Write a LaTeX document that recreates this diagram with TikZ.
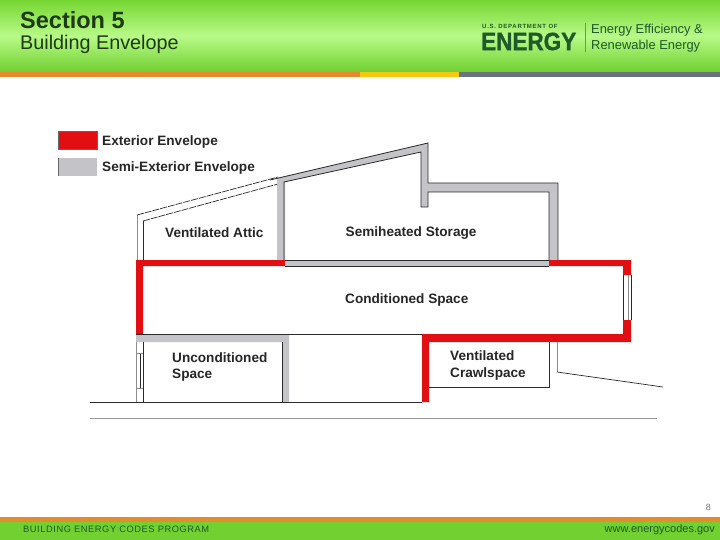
\documentclass[tikz,border=0pt]{standalone}
\usepackage{fontspec}
\setmainfont{Liberation Sans}
\newfontfamily\spaced[LetterSpace=12]{Liberation Sans}
\newfontfamily\footerf[LetterSpace=6]{Liberation Sans}
\newfontfamily\heavy[UprightFont=* Bold,FakeBold=1.2,FakeStretch=0.9]{Liberation Sans}
\definecolor{hgreen}{HTML}{76D632}
\definecolor{hlight}{HTML}{B8FA88}
\definecolor{hbot}{HTML}{70D030}
\definecolor{orangeb}{HTML}{E58A2D}
\definecolor{yellowb}{HTML}{F4C914}
\definecolor{grayb}{HTML}{6A7280}
\definecolor{dkgreen}{HTML}{1F5A2A}
\definecolor{ink}{HTML}{1E3A12}
\definecolor{envred}{HTML}{E10F12}
\definecolor{envgray}{HTML}{C4C4C8}
\definecolor{edge}{HTML}{2A2A2A}
\tikzset{
  x=1pt,y=-1pt,
  lab/.style={anchor=west,inner sep=0pt,font=\fontsize{13.6}{16.5}\selectfont\bfseries,text=black!85,align=left},
  red fill/.style={fill=envred,draw=none},
  gray fill/.style={fill=envgray,draw=none},
  wall line/.style={draw=edge,line width=0.8pt},
  thin line/.style={draw=black!45,line width=0.6pt},
  roof dash/.style={draw=edge,line width=0.7pt,dash pattern=on 7pt off 1pt}
}
\begin{document}
\begin{tikzpicture}
\useasboundingbox (0,0) rectangle (720,540);
\fill[white] (0,0) rectangle (720,540);
% header
\shade[top color=hgreen,bottom color=hbot,middle color=hlight,draw=none] (0,0) rectangle (720,72);
\fill[orangeb] (0,72) rectangle (360,77);
\fill[yellowb] (360,72) rectangle (459,77);
\fill[grayb] (459,72) rectangle (720,77);
\node[anchor=west,inner sep=0pt,text=ink,font=\fontsize{23.5}{26}\selectfont\bfseries] (title) at (20,20.5) {Section 5};
\node[anchor=west,inner sep=0pt,text=ink,font=\fontsize{19.8}{22}\selectfont] (subtitle) at (20,44) {Building Envelope};
\node[anchor=west,inner sep=0pt,text=dkgreen,font=\fontsize{6}{7}\spaced\bfseries] (doe) at (482,26.5) {U.S. DEPARTMENT OF};
\node[anchor=west,inner sep=0pt,text=dkgreen,font=\fontsize{25}{27}\heavy] (energy) at (481,41.5) {ENERGY};
\draw[hgreen!80!black,line width=0.4pt] (585,23) -- (585,52);
\node[anchor=west,inner sep=0pt,text=dkgreen,font=\fontsize{12.9}{15}\selectfont] (eere1) at (591,30.5) {Energy Efficiency \&};
\node[anchor=west,inner sep=0pt,text=dkgreen,font=\fontsize{12.9}{15}\selectfont] (eere2) at (591,46.5) {Renewable Energy};
% legend
\fill[envred,draw=black!60,line width=0.4pt] (58,131) rectangle (97,149);
\fill[envgray] (58,158) rectangle (97,176);
\draw[black!60,line width=0.4pt] (58,158) -- (58,176);
\node[lab] (legext) at (102,142) {Exterior Envelope};
\node[lab] (legsemi) at (102,168) {Semi-Exterior Envelope};
% attic
\draw[thin line] (137,215) -- (137,260);
\draw[wall line] (143,221) -- (143,260);
\draw[roof dash] (137,215) -- (278,177);
\draw[roof dash] (143,221) -- (278,184);
% gray upper envelope
\fill[envgray] (277,178) -- (427,143) -- (428,143) -- (428,183) -- (558,183) -- (558,260) -- (549,260) -- (549,192) -- (428,192) -- (428,207) -- (421,207) -- (421,152) -- (285,182) -- (285,260) -- (277,260) -- cycle;
\draw[wall line] (270,180) -- (428,143) -- (428,183) -- (558,183) -- (558,260);
\draw[wall line] (284,260) -- (284,182) -- (421,152) -- (421,207) -- (428,207) -- (428,192) -- (549,192) -- (549,260);
% red envelope
\fill[red fill] (136,260) -- (631,260) -- (631,275) -- (623,275) -- (623,266) -- (143,266) -- (143,334) -- (136,334) -- cycle;
\fill[gray fill] (285,260) rectangle (549,266);
\draw[wall line] (285,260) -- (549,260);
\draw[wall line] (285,266) -- (549,266);
\fill[red fill] (422,334) -- (623,334) -- (623,320) -- (631,320) -- (631,342) -- (429,342) -- (429,402) -- (422,402) -- cycle;
\draw[wall line] (623,275) -- (623,320);
\draw[thin line] (628,275) -- (628,320);
\draw[edge,line width=0.5pt] (631,275) -- (631,320);
% unconditioned
\fill[gray fill] (136,334) -- (289,334) -- (289,402) -- (282,402) -- (282,342) -- (136,342) -- cycle;
\draw[wall line] (136,334) -- (422,334);
\draw[wall line] (282,342) -- (282,402);
\draw[wall line] (143,342) -- (143,402);
\draw[thin line] (136,342) -- (136,402);
\draw[wall line] (140,353) -- (140,388);
\draw[thin line] (136,353) -- (143,353);
\draw[thin line] (136,388) -- (143,388);
% crawlspace
\draw[wall line] (549,342) -- (549,387) -- (429,387);
\draw[thin line] (557,342) -- (557,372);
\draw[edge,line width=0.7pt] (557,372) -- (663,387);
% ground
\draw[edge,line width=0.9pt] (90,402) -- (422,402);
\draw[black!40,line width=0.8pt] (90,418) -- (657,418);
% labels
\node[lab] (attic) at (165,233) {Ventilated Attic};
\node[lab] (storage) at (345.5,233) {Semiheated Storage};
\node[lab] (cond) at (345,300) {Conditioned Space};
\node[lab] (uncond) at (172,367) {Unconditioned\\Space};
\node[lab] (crawl) at (450,365.5) {Ventilated\\Crawlspace};
% footer
\node[anchor=east,inner sep=0pt,text=black!55,font=\fontsize{9}{10}\selectfont] (pagenum) at (711,507) {8};
\fill[orangeb] (0,517) rectangle (720,522);
\fill[hgreen!97!black] (0,522) rectangle (720,540);
\node[anchor=west,inner sep=0pt,text=dkgreen,font=\fontsize{9.3}{10}\footerf] (prog) at (23,529.5) {BUILDING ENERGY CODES PROGRAM};
\node[anchor=east,inner sep=0pt,text=dkgreen,font=\fontsize{11}{12}\selectfont] (web) at (715,529.5) {www.energycodes.gov};
\end{tikzpicture}
\end{document}
